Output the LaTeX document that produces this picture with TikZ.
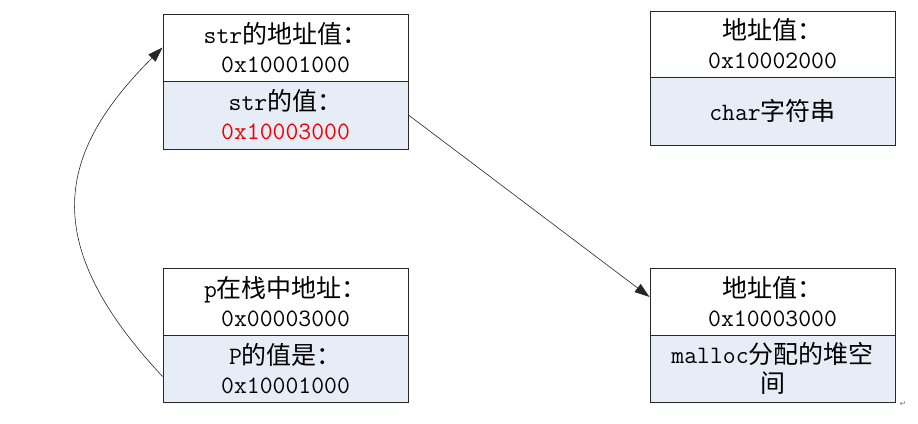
\documentclass[tikz,border=0pt]{standalone}
\usepackage{fontspec}
\newfontfamily\cjk{Noto Sans CJK SC}
\newfontfamily\symf{DejaVu Sans}
\usetikzlibrary{arrows.meta}
\definecolor{cellblue}{RGB}{231,237,246}
\definecolor{edgec}{RGB}{40,40,40}
\definecolor{hexred}{RGB}{240,0,0}
\tikzset{
  cell/.style={draw=edgec, line width=0.9pt, minimum width=245pt, inner sep=0pt,
    align=center, font=\ttfamily\fontsize{25}{29}\selectfont, text=black},
  topcell/.style={cell, fill=white},
  botcell/.style={cell, fill=cellblue},
  link/.style={draw=black!85, line width=0.6pt, -{Triangle[length=15pt,width=10pt]}},
}
\begin{document}
\begin{tikzpicture}[x=1pt,y=1pt]
\useasboundingbox (0,0) rectangle (918,423);
% box A
\node[topcell, minimum height=67pt] (Atop) at (285.5,375.5) {str{\cjk 的地址值：}\\0x10001000};
\node[botcell, minimum height=68pt] (Abot) at (285.5,308) {str{\cjk 的值：}\\\textcolor{hexred}{0x10003000}};
% box B
\node[topcell, minimum height=66pt] (Btop) at (772.5,379) {{\cjk 地址值：}\\0x10002000};
\node[botcell, minimum height=68pt] (Bbot) at (772.5,312) {char{\cjk 字符串}};
% box C
\node[topcell, minimum height=67pt] (Ctop) at (285.5,121.5) {p{\cjk 在栈中地址：}\\0x00003000};
\node[botcell, minimum height=67pt] (Cbot) at (285.5,54.5) {P{\cjk 的值是：}\\0x10001000};
% box D
\node[topcell, minimum height=67pt] (Dtop) at (772.5,121.5) {{\cjk 地址值：}\\0x10003000};
\node[botcell, minimum height=67pt] (Dbot) at (772.5,54.5) {malloc{\cjk 分配的堆空}\\{\cjk 间}};
% return mark
\node[font=\symf\fontsize{8}{8}\selectfont, text=gray, inner sep=0pt] (ret) at (903,19) {↵};
% connectors
\draw[link] ([yshift=-8pt]Cbot.west) .. controls (37,181) and (57,270) .. (Atop.west);
\draw[link] (Abot.east) -- ([yshift=4.5pt]Dtop.west);
\end{tikzpicture}
\end{document}
